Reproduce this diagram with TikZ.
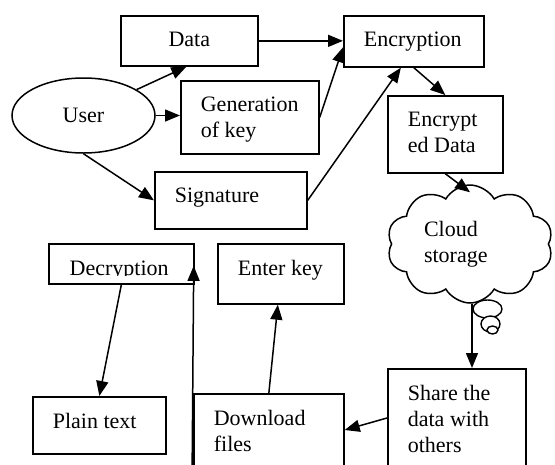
\documentclass[tikz,border=0pt]{standalone}
\usepackage{fontspec}
\setmainfont{Liberation Serif}
\usetikzlibrary{arrows.meta,shapes.geometric,shapes.symbols}

% text of a box: width, height, lines
\newcommand{\boxtext}[3]{\parbox[c][#2][t]{#1}{\vspace*{16pt}\raggedright #3}}

\begin{document}
\begin{tikzpicture}[x=1pt, y=-1pt, font=\fontsize{22}{26}\selectfont]
    \tikzstyle{blk} = [rectangle, draw, line width=1.7pt, inner xsep=20pt, inner ysep=0pt, anchor=north west]
    \tikzstyle{arr} = [-{Triangle[length=15pt,width=12pt]}, line width=1.5pt]
    \tikzstyle{bubble} = [draw, line width=1.4pt, fill=white]

    \useasboundingbox (0,0) rectangle (555,464);

    % User and what he gives
    \node[ellipse, draw, line width=1.5pt, minimum width=143pt, minimum height=75pt, inner sep=0pt] (user) at (83.5,115.5) {User};
    \node[blk] (data) at (120,15) {\boxtext{97pt}{50pt}{\centering Data}};
    \node[blk] (gen) at (180,80) {\boxtext{98pt}{73pt}{Generation\\of key}};
    \node[blk] (sig) at (154,171) {\boxtext{112pt}{57pt}{Signature}};

    % Encryption side
    \node[blk] (enc) at (343,15) {\boxtext{100pt}{51pt}{Encryption}};
    \node[blk] (encd) at (387,95) {\boxtext{75pt}{77pt}{Encrypt\\ed Data}};

    % Cloud with its bubbles
    \draw[bubble] (487.5,309) ellipse (14.5pt and 9pt);
    \draw[bubble] (490.5,324) ellipse (9.5pt and 8pt);
    \draw[bubble] (492.5,330) ellipse (5.5pt and 4pt);
    \node[cloud, draw, line width=1.5pt, fill=white, cloud puffs=10, cloud puff arc=120, aspect=1.4,
          minimum width=166pt, minimum height=118pt, inner sep=0pt] (cl) at (470,244)
          {\parbox{92pt}{Cloud\\storage}};

    % Lower row
    \node[blk] (sh) at (387,368) {\boxtext{98pt}{110pt}{Share the\\data with\\others}};
    \node[blk] (dl) at (193,393) {\boxtext{110pt}{90pt}{Download\\files}};
    \node[blk] (ekey) at (217,243) {\boxtext{86pt}{60pt}{Enter key}};
    \node[blk, minimum width=145pt, minimum height=40pt, inner xsep=0pt,
          path picture={
            \clip (path picture bounding box.north west) rectangle ([yshift=8pt]path picture bounding box.south east);
            \node[anchor=base west, inner sep=0pt, minimum width=0pt, minimum height=0pt]
              at ([xshift=20pt,yshift=-32pt]path picture bounding box.north west) {Decryption};
          }] (dec) at (48,243) {};
    \node[blk] (plain) at (32,396) {\boxtext{93pt}{57pt}{Plain text}};

    % Arrows
    \draw[arr] (user.26) -- ([xshift=-3pt]data.south);
    \draw[arr] (user.east) -- (user.east -| gen.west);
    \draw[arr] (user.south) -- (sig.west);
    \draw[arr] (data.east) -- (data.east -| enc.west);
    \draw[arr] (gen.east) -- ([yshift=-6pt]enc.west);
    \draw[arr] (sig.east) -- ([xshift=-13pt]enc.south);
    \draw[arr] (enc.south) -- (encd.north);
    \draw[arr] (encd.south) -- ([yshift=-8pt]cl.north);
    \draw[arr] ([xshift=2pt]cl.south) -- ([xshift=2pt]cl.south |- sh.north);
    \draw[arr] ([yshift=-50pt]sh.north west) -- ([yshift=-37pt]dl.north east);
    \draw[arr] (dl.north) -- ([xshift=-3pt]ekey.south);
    \draw[arr] ([xshift=-1pt]dl.south west) -- ([xshift=-1pt,yshift=-2pt]dec.east);
    \draw[arr] (dec.south) -- (plain.north);
\end{tikzpicture}
\end{document}
